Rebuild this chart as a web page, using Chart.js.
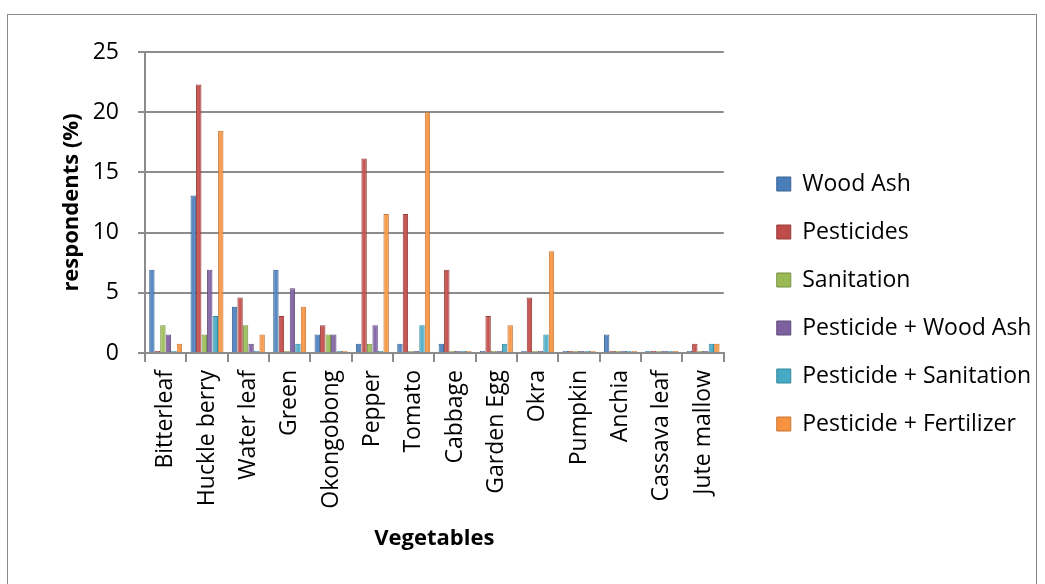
<!DOCTYPE html>
<html>
<head>
<meta charset="utf-8">
<title>Control methods by vegetable</title>
<script src="https://cdn.jsdelivr.net/npm/chart.js@4.4.1/dist/chart.umd.min.js"></script>
<style>
  html, body { margin: 0; padding: 0; background: #ffffff; }
  #wrap { width: 1045px; height: 584px; }
</style>
</head>
<body>
<div id="wrap"><canvas id="chart" width="1045" height="584"></canvas></div>
<script>
// Vegetables surveyed
const categories = ['Bitterleaf', 'Huckle berry', 'Water leaf', 'Green', 'Okongobong', 'Pepper', 'Tomato',
  'Cabbage', 'Garden Egg', 'Okra', 'Pumpkin', 'Anchia', 'Cassava leaf', 'Jute mallow'];

// Share of respondents (%) using each control method
const woodAsh        = [6.92, 13.08, 3.85, 6.92, 1.54, 0.77, 0.77, 0.77, 0, 0, 0, 1.54, 0, 0];
const pesticides     = [0, 22.31, 4.62, 3.08, 2.31, 16.15, 11.54, 6.92, 3.08, 4.62, 0, 0, 0, 0.77];
const sanitation     = [2.31, 1.54, 2.31, 0, 1.54, 0.77, 0, 0, 0, 0, 0, 0, 0, 0];
const pestWoodAsh    = [1.54, 6.92, 0.77, 5.38, 1.54, 2.31, 0, 0, 0, 0, 0, 0, 0, 0];
const pestSanitation = [0, 3.08, 0, 0.77, 0, 0, 2.31, 0, 0.77, 1.54, 0, 0, 0, 0.77];
const pestFertilizer = [0.77, 18.46, 1.54, 3.85, 0, 11.54, 20.0, 0, 2.31, 8.46, 0, 0, 0, 0.77];

const seriesNames = ['Wood Ash', 'Pesticides', 'Sanitation', 'Pesticide + Wood Ash',
  'Pesticide + Sanitation', 'Pesticide + Fertilizer'];
const seriesValues = [woodAsh, pesticides, sanitation, pestWoodAsh, pestSanitation, pestFertilizer];

// Y axis ticks
const yMin = 0, yMax = 25, yStep = 5;

const fills   = ['#4A7EBB', '#BE4B48', '#98B954', '#7D60A0', '#46AAC5', '#F69240'];
const lights  = ['#5E8CC4', '#C95C59', '#A6C466', '#8A6FAB', '#58B5CD', '#F8A053'];
const darks   = ['#3A6494', '#963C3A', '#76903F', '#5F4A7C', '#35879C', '#C87533'];

const FONT = '"Open Sans", "DejaVu Sans", sans-serif';
const GRID = '#8c8c8c';

// White page with a thin frame round the chart
const framePlugin = {
  id: 'frame',
  beforeDraw(chart) {
    const c = chart.ctx;
    c.save();
    c.fillStyle = '#ffffff';
    c.fillRect(0, 0, chart.width, chart.height);
    c.strokeStyle = '#8a8a8a';
    c.lineWidth = 1;
    c.strokeRect(7.5, 14.5, 1029, 600);
    c.restore();
  }
};

// Rounded, cylinder-like shading across each bar
const shadePlugin = {
  id: 'shade',
  beforeDatasetsDraw(chart) {
    const c = chart.ctx;
    chart.data.datasets.forEach((ds, di) => {
      const meta = chart.getDatasetMeta(di);
      meta.data.forEach(el => {
        const p = el.getProps(['x', 'width'], true);
        if (!isFinite(p.x) || !isFinite(p.width)) return;
        const g = c.createLinearGradient(p.x - p.width / 2, 0, p.x + p.width / 2, 0);
        g.addColorStop(0, fills[di]);
        g.addColorStop(0.4, lights[di]);
        g.addColorStop(1, fills[di]);
        el.options = Object.assign({}, el.options, { backgroundColor: g });
      });
    });
  }
};

// Place the legend a little right of and above its default slot
const legendGapPlugin = {
  id: 'legendGap',
  afterLayout(chart) {
    const lg = chart.legend;
    if (lg) {
      lg.left += 28;
      lg.right = chart.width;
      lg.width = lg.right - lg.left;
      lg.top -= 14;
      lg.bottom -= 14;
    }
  }
};

const datasets = seriesNames.map((name, i) => ({
  label: name,
  data: seriesValues[i],
  backgroundColor: fills[i],
  borderColor: darks[i],
  borderWidth: 1,
  minBarLength: 2,
  categoryPercentage: 0.8,
  barPercentage: 0.98
}));

new Chart(document.getElementById('chart'), {
  type: 'bar',
  data: { labels: categories, datasets },
  plugins: [framePlugin, shadePlugin, legendGapPlugin],
  options: {
    responsive: false,
    animation: false,
    layout: { padding: { top: 52, right: 80, bottom: 0, left: 0 } },
    plugins: {
      tooltip: { enabled: false },
      legend: {
        position: 'right',
        labels: {
          boxWidth: 14,
          boxHeight: 14,
          padding: 25,
          color: '#000000',
          font: { family: FONT, size: 23 }
        }
      }
    },
    scales: {
      x: {
        afterFit(scale) { scale.height = 231; },
        grid: { drawOnChartArea: false, drawTicks: true, tickLength: 9, color: GRID, lineWidth: 2, offset: true },
        border: { display: true, color: GRID, width: 2 },
        ticks: {
          color: '#000000',
          font: { family: FONT, size: 23 },
          minRotation: 90,
          maxRotation: 90,
          padding: 8,
          autoSkip: false
        },
        title: {
          display: true,
          text: 'Vegetables',
          color: '#000000',
          font: { family: FONT, size: 22, weight: 'bold' },
          padding: { top: 0, bottom: 32 }
        }
      },
      y: {
        min: yMin,
        max: yMax,
        afterFit(scale) { scale.width = 145; },
        grid: { color: GRID, lineWidth: 2, drawTicks: true, tickLength: 7 },
        border: { display: true, color: GRID, width: 2 },
        ticks: {
          stepSize: yStep,
          color: '#000000',
          font: { family: FONT, size: 23 },
          padding: 19
        },
        title: {
          display: true,
          text: 'respondents (%)',
          color: '#000000',
          font: { family: FONT, size: 22, weight: 'bold' },
          padding: { top: 59, bottom: 0 }
        }
      }
    }
  }
});
</script>
</body>
</html>
